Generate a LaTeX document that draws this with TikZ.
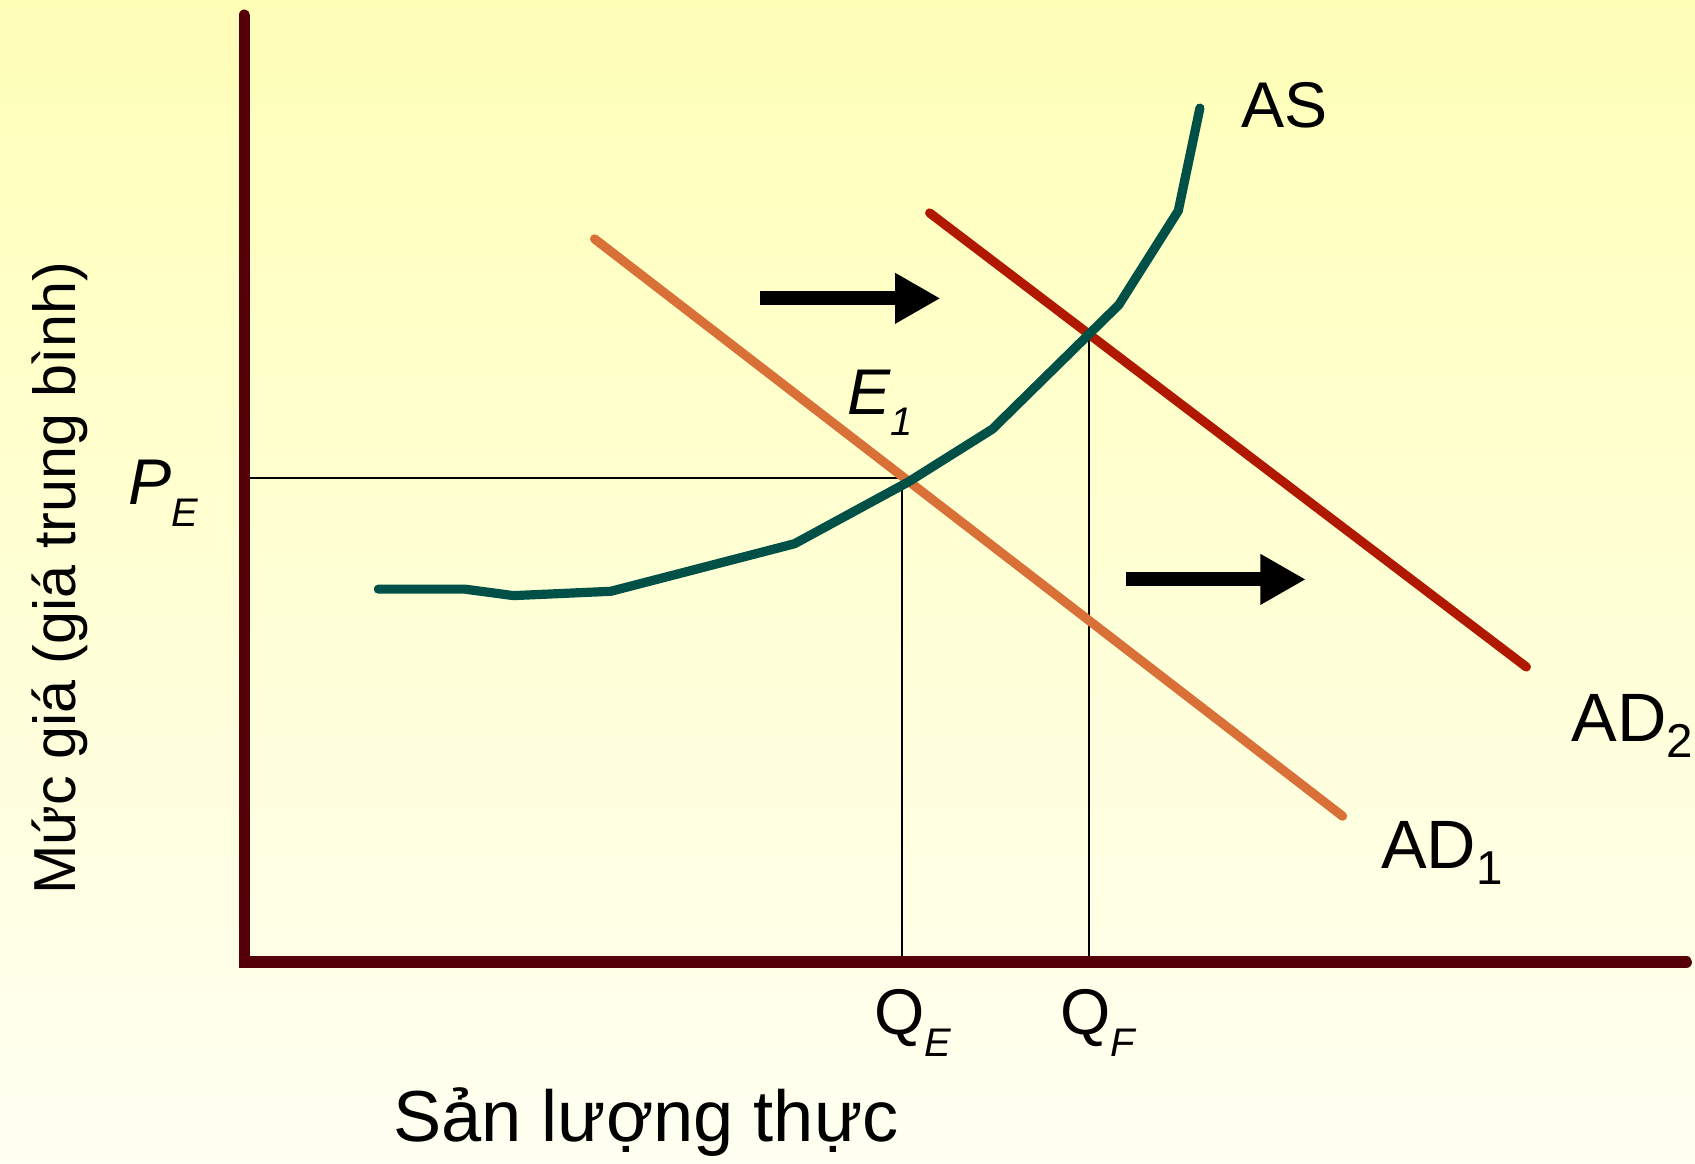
\documentclass[tikz,border=0pt]{standalone}
\usepackage{fontspec}
\setmainfont{Liberation Sans}
\usetikzlibrary{arrows.meta}
\definecolor{bgtop}{RGB}{255,255,184}
\definecolor{bgbot}{RGB}{255,255,242}
\definecolor{axiscol}{RGB}{85,0,8}
\definecolor{ascol}{RGB}{0,80,72}
\definecolor{adone}{RGB}{216,112,56}
\definecolor{adtwo}{RGB}{176,24,0}
\newcommand\lowsub[2]{\raisebox{-#1}{\fontsize{#2}{12}\selectfont}}
\newcommand\itsub[1]{\raisebox{-0.2cm}{\fontsize{10.5}{12}\selectfont\itshape #1}}
\newcommand\upsub[1]{\raisebox{-0.15cm}{\fontsize{12.5}{14}\selectfont #1}}
\tikzset{
  axisline/.style={draw=axiscol, line width=0.105cm, line cap=round},
  guide/.style={draw=black, line width=0.5pt},
  curve/.style={line width=0.085cm, line cap=round, line join=round},
  shiftarrow/.style={draw=black, line width=0.13cm,
    -{Triangle[length=0.42cm, width=0.44cm]}},
  lbl/.style={inner sep=0pt, anchor=base west, font=\fontsize{17}{20}\selectfont},
}
\begin{document}
\begin{tikzpicture}[x=0.01cm, y=-0.01cm]
\shade[top color=bgtop, bottom color=bgbot] (0,0) rectangle (1568,1076);
\useasboundingbox (0,0) rectangle (1568,1076);
% coordinates
\coordinate (O) at (226,890);
\coordinate (ytop) at (226,14);
\coordinate (xend) at (1560,890);
\coordinate (E1) at (834,442);
\coordinate (F) at (1007,310);
\coordinate (pe) at (226,442);
\coordinate (qe) at (834,890);
\coordinate (qf) at (1007,890);
% guides
\draw[guide] (pe) -- (E1) -- (qe);
\draw[guide] (F) -- (qf);
% curves
\draw[curve, draw=adone] (550,221) coordinate (ad1s) -- (1242,755) coordinate (ad1e);
\draw[curve, draw=adtwo] (860,197) coordinate (ad2s) -- (1412,617) coordinate (ad2e);
\draw[curve, draw=ascol] (350,545) -- (430,545) -- (475,551) -- (565,547) -- (735,503) -- (840,446) -- (918,397) -- (1035,282) -- (1090,195) -- (1110,100);
% axes
\draw[axisline] (ytop) -- (O) -- (xend);
% arrows
\coordinate (a1s) at (703,276);
\coordinate (a1e) at (870,276);
\coordinate (a2s) at (1042,536);
\coordinate (a2e) at (1208,536);
\draw[shiftarrow] (a1s) -- (a1e);
\draw[shiftarrow] (a2s) -- (a2e);
% labels
\node[lbl] (asl) at (1148,118) {AS};
\node[lbl, font=\fontsize{18}{20}\selectfont] (ad2l) at (1453,686) {AD\upsub{2}};
\node[lbl, font=\fontsize{18}{20}\selectfont] (ad1l) at (1277,803) {AD\upsub{1}};
\node[lbl] (e1l) at (783,383) {\itshape E\itsub{1}};
\node[lbl] (pel) at (118,467) {\itshape P\itsub{E}};
\node[lbl] (qel) at (808,957) {Q\itsub{E}};
\node[lbl] (qfl) at (980,957) {Q\itsub{F}};
\node[lbl, font=\fontsize{19}{22}\selectfont] (xl) at (363,1056) {Sản lượng thực};
\node[inner sep=0pt, anchor=base, rotate=90, font=\fontsize{15.6}{20}\selectfont] (yl) at (70,535) {Mức giá (giá trung bình)};
\end{tikzpicture}
\end{document}
